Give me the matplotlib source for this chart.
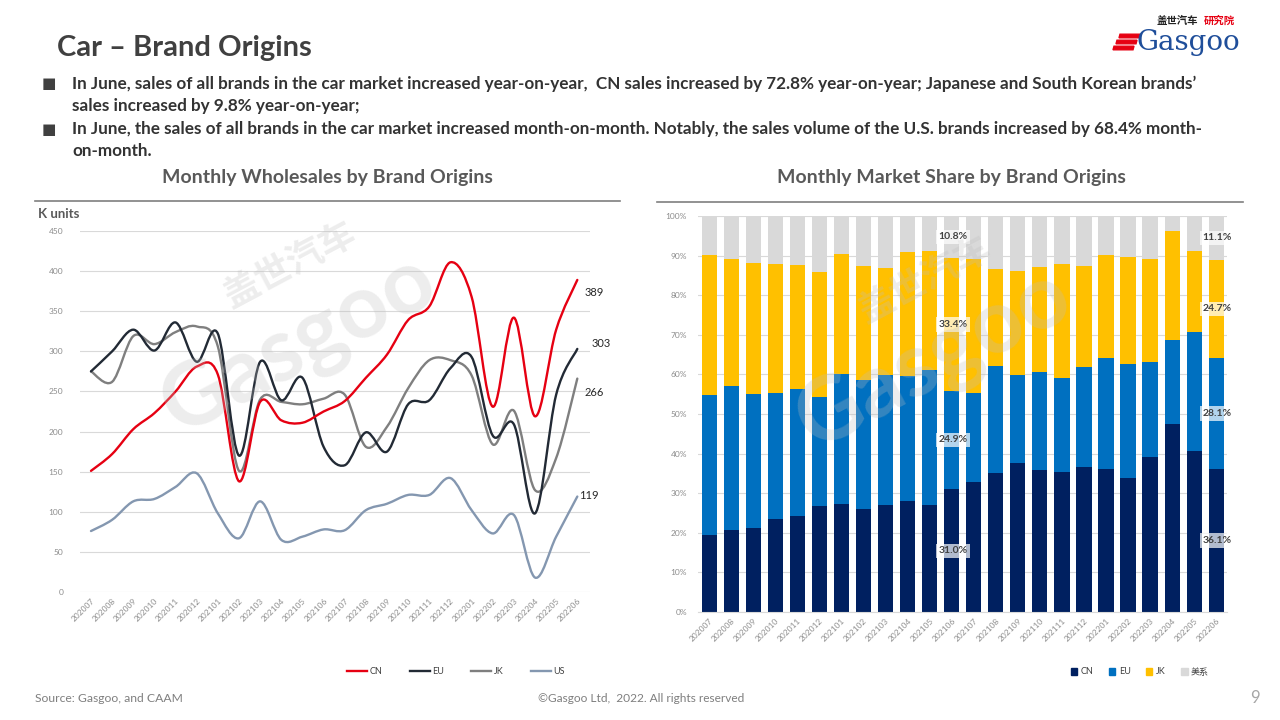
import matplotlib
matplotlib.use("Agg")
import matplotlib.pyplot as plt
from matplotlib.path import Path
from matplotlib.patches import PathPatch, Polygon
from matplotlib.lines import Line2D
from matplotlib.patches import Patch
import numpy as np

plt.rcParams['font.family'] = ['Lato', 'Noto Sans CJK SC', 'DejaVu Sans']

months = ['202007', '202008', '202009', '202010', '202011', '202012',
          '202101', '202102', '202103', '202104', '202105', '202106',
          '202107', '202108', '202109', '202110', '202111', '202112',
          '202201', '202202', '202203', '202204', '202205', '202206']

# Monthly wholesales, K units
cn_sales = [151, 172, 203, 223, 250, 281, 271, 138, 237, 214, 211, 225,
            238, 267, 296, 339, 356, 411, 368, 231, 342, 219, 327, 389]
eu_sales = [275, 300, 327, 301, 336, 287, 322, 170, 287, 239, 267, 181,
            158, 199, 175, 234, 239, 279, 293, 195, 209, 98, 246, 303]
jk_sales = [275, 262, 319, 309, 324, 331, 306, 151, 240, 237, 234, 241,
            246, 181, 206, 254, 289, 289, 270, 184, 226, 127, 167, 266]
us_sales = [76, 90, 113, 116, 131, 148, 98, 67, 113, 65, 69, 78,
            77, 102, 110, 121, 121, 142, 102, 73, 96, 18, 69, 119]

# Market share (%)
cn_share = [19.4, 20.7, 21.2, 23.5, 24.2, 26.7, 27.2, 26.0, 27.0, 28.0, 27.0, 31.0,
            32.9, 35.2, 37.6, 35.8, 35.4, 36.7, 36.0, 33.9, 39.2, 47.4, 40.7, 36.1]
eu_share = [35.4, 36.3, 33.8, 31.8, 32.1, 27.5, 32.9, 32.5, 32.8, 31.5, 34.1, 24.9,
            22.4, 27.0, 22.3, 24.8, 23.7, 25.2, 28.1, 28.8, 23.9, 21.2, 29.9, 28.1]
jk_share = [35.3, 32.1, 33.1, 32.5, 31.3, 31.7, 30.2, 28.8, 27.0, 31.3, 30.1, 33.4,
            33.8, 24.4, 26.2, 26.5, 28.8, 25.5, 26.1, 27.0, 26.1, 27.6, 20.6, 24.7]
us_share = [9.9, 10.9, 11.9, 12.2, 12.4, 14.1, 9.7, 12.7, 13.2, 9.2, 8.8, 10.8,
            10.9, 13.4, 13.9, 12.9, 12.1, 12.6, 9.8, 10.3, 10.8, 3.8, 8.8, 11.1]

line_series = ['CN', 'EU', 'JK', 'US']
share_series = ['CN', 'EU', 'JK', '美系']
labeled_months = ['202106', '202206']

line_colors = ['#E60012', '#222A35', '#7F7F7F', '#8497B0']
bar_colors = ['#002060', '#0070C0', '#FFC000', '#D9D9D9']

fig = plt.figure(figsize=(12.8, 7.2), dpi=100)
fig.patch.set_facecolor('white')


def fx(px):
    return px / 1280.0


def fy(py):
    return 1 - py / 720.0


# ---------- Header ----------
fig.text(fx(57), fy(48), 'Car – Brand Origins', fontsize=21, fontweight='bold',
         color='#404040', va='center', ha='left')

bullets = [
    (84, 'In June, sales of all brands in the car market increased year-on-year,  CN sales increased by 72.8% year-on-year; Japanese and South Korean brands’'),
    (106, 'sales increased by 9.8% year-on-year;'),
    (129, 'In June, the sales of all brands in the car market increased month-on-month. Notably, the sales volume of the U.S. brands increased by 68.4% month-'),
    (151, 'on-month.'),
]
for i, (yy, t) in enumerate(bullets):
    fig.text(fx(72), fy(yy), t, fontsize=12.3, fontweight='bold', color='#333333',
             va='center', ha='left')
for yy in (84, 129):
    fig.text(fx(42), fy(yy), '■', fontsize=11, color='#404040', va='center', ha='left',
             family=['DejaVu Sans'])

fig.text(fx(327), fy(178), 'Monthly Wholesales by Brand Origins', fontsize=14,
         fontweight='bold', color='#595959', ha='center', va='center')
fig.text(fx(951), fy(178), 'Monthly Market Share by Brand Origins', fontsize=14,
         fontweight='bold', color='#595959', ha='center', va='center')
fig.add_artist(Line2D([fx(35), fx(620)], [fy(201), fy(201)], color='#7F7F7F', lw=1.2))
fig.add_artist(Line2D([fx(657), fx(1243)], [fy(202), fy(202)], color='#7F7F7F', lw=1.2))

# Logo
fig.text(fx(1188), fy(42), 'Gasgoo', fontsize=20, color='#1F4E9A', ha='center', va='center',
         family=['DejaVu Serif'])
fig.text(fx(1177), fy(21), '盖世汽车', fontsize=7.5, fontweight='bold', color='#222222',
         ha='center', va='center', family=['Noto Sans CJK SC'])
fig.text(fx(1219), fy(21), '研究院', fontsize=7.5, fontweight='bold', color='#E60012',
         ha='center', va='center', family=['Noto Sans CJK SC'])
for k, yy in enumerate((36, 42, 48)):
    x0 = 1120 - k * 3
    fig.add_artist(Polygon([[fx(x0), fy(yy - 1.8)], [fx(x0 + 20), fy(yy - 1.8)],
                            [fx(x0 + 19), fy(yy + 1.8)], [fx(x0 - 1), fy(yy + 1.8)]],
                           closed=True, color='#E60012', transform=fig.transFigure))

# Footer
fig.text(fx(35), fy(698), 'Source: Gasgoo, and CAAM', fontsize=8.7, color='#7F7F7F',
         ha='left', va='center')
fig.text(fx(641), fy(699), '©Gasgoo Ltd,  2022. All rights reserved', fontsize=8.6,
         color='#7F7F7F', ha='center', va='center')
fig.text(fx(1255), fy(698), '9', fontsize=12, color='#A6A6A6', ha='center', va='center')


def smooth_path(xs, ys):
    n = len(xs)
    verts = [(xs[0], ys[0])]
    codes = [Path.MOVETO]
    for i in range(n - 1):
        p0 = i - 1 if i > 0 else i
        p3 = i + 2 if i + 2 < n else i + 1
        c1 = (xs[i] + (xs[i + 1] - xs[p0]) / 6.0, ys[i] + (ys[i + 1] - ys[p0]) / 6.0)
        c2 = (xs[i + 1] - (xs[p3] - xs[i]) / 6.0, ys[i + 1] - (ys[p3] - ys[i]) / 6.0)
        verts += [c1, c2, (xs[i + 1], ys[i + 1])]
        codes += [Path.CURVE4] * 3
    return Path(verts, codes)


# ---------- Left chart ----------
axL = fig.add_axes([fx(80), fy(592), fx(590) - fx(80), fy(231) - fy(592)])
axL.set_facecolor('none')
x = np.arange(len(months))
series_vals = [cn_sales, eu_sales, jk_sales, us_sales]
zorders = [5, 4, 3, 2]
for name, vals, c, z in zip(line_series, series_vals, line_colors, zorders):
    axL.add_patch(PathPatch(smooth_path(x, vals), fill=False, ec=c, lw=1.7,
                            zorder=z, capstyle='round', joinstyle='round'))
axL.set_xlim(-0.52, 23.6)
axL.set_ylim(0, 450)
axL.set_yticks(np.arange(0, 451, 50))
axL.grid(axis='y', color='#D9D9D9', lw=0.8)
axL.set_axisbelow(True)
for s in axL.spines.values():
    s.set_visible(False)
axL.tick_params(axis='both', length=0, labelsize=6, labelcolor='#8C8C8C')
axL.tick_params(axis='y', pad=12)
axL.set_xticks(x)
axL.set_xticklabels(months, rotation=45, ha='right', rotation_mode='anchor')
axL.tick_params(axis='x', pad=4)

label_offsets = [(5, -9), (10, 4), (5, -10), (1, 1)]
for vals, off in zip(series_vals, label_offsets):
    axL.annotate(f'{vals[-1]:d}', (x[-1], vals[-1]), xytext=off, textcoords='offset points',
                 fontsize=8, color='#262626', ha='left', va='center')

fig.text(fx(38), fy(214), 'K units', fontsize=9.5, fontweight='bold', color='#595959',
         ha='left', va='center')

handlesL = [Line2D([0], [0], color=c, lw=1.7) for c in line_colors]
legL = fig.legend(handlesL, line_series, loc='center', bbox_to_anchor=(fx(456), fy(672)),
                  ncol=4, frameon=False, fontsize=6.5, handlelength=2.2, handletextpad=0.3,
                  columnspacing=3.0)
for t in legL.get_texts():
    t.set_color('#404040')

# ---------- Right chart ----------
axR = fig.add_axes([fx(698), fy(612), fx(1227) - fx(698), fy(216) - fy(612)])
axR.set_facecolor('none')
bottom = np.zeros(len(months))
share_vals = [cn_share, eu_share, jk_share, us_share]
for name, vals, c in zip(share_series, share_vals, bar_colors):
    vals = np.array(vals)
    axR.bar(x, vals, bottom=bottom, width=0.69, color=c, zorder=2)
    for m in labeled_months:
        i = months.index(m)
        axR.text(x[i] + 0.05, bottom[i] + vals[i] / 2, f'{vals[i]:.1f}%', fontsize=7.5,
                 fontweight='bold', color='#404040', ha='center', va='center', zorder=6,
                 bbox=dict(boxstyle='square,pad=0.25', fc='white', ec='none', alpha=0.7))
    bottom = bottom + vals
axR.set_xlim(-0.51, 23.49)
axR.set_ylim(0, 100)
axR.set_yticks(np.arange(0, 101, 10))
axR.set_yticklabels([f'{v}%' for v in range(0, 101, 10)])
axR.grid(axis='y', color='#D9D9D9', lw=0.8, zorder=0)
axR.set_axisbelow(True)
for s in axR.spines.values():
    s.set_visible(False)
axR.spines['bottom'].set_visible(True)
axR.spines['bottom'].set_color('#D9D9D9')
axR.tick_params(axis='both', length=0, labelsize=6, labelcolor='#8C8C8C')
axR.tick_params(axis='y', pad=8)
axR.set_xticks(x)
axR.set_xticklabels(months, rotation=45, ha='right', rotation_mode='anchor')
axR.tick_params(axis='x', pad=4)

handlesR = [Patch(color=c) for c in bar_colors]
legR = fig.legend(handlesR, share_series, loc='center', bbox_to_anchor=(fx(1140), fy(672)),
                  ncol=4, frameon=False, fontsize=6.5, handlelength=0.7, handleheight=0.7,
                  handletextpad=0.4, columnspacing=1.7)
for t in legR.get_texts():
    t.set_color('#404040')

# Watermarks
for cxp, cyp in ((300, 315), (935, 330)):
    fig.text(fx(cxp), fy(cyp + 30), 'Gasgoo', fontsize=64, fontweight='bold', color='#BFBFBF',
             alpha=0.28, rotation=28, ha='center', va='center', zorder=10)
    fig.text(fx(cxp - 10), fy(cyp - 50), '盖世汽车', fontsize=26, fontweight='bold', color='#BFBFBF',
             alpha=0.28, rotation=28, ha='center', va='center', zorder=10,
             family=['Noto Sans CJK SC'])

fig.savefig('out.png', dpi=100)
